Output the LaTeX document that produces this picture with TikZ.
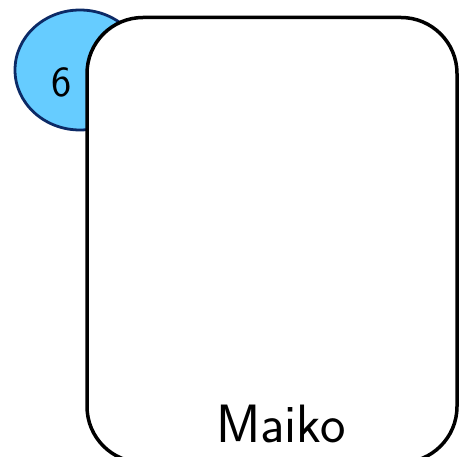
\documentclass[tikz,border=0pt]{standalone}
\usetikzlibrary{shapes.geometric}
\definecolor{badgefill}{HTML}{66CCFF}
\definecolor{badgeline}{HTML}{0C2A66}
\tikzset{
  badge/.style={ellipse, fill=badgefill, draw=badgeline, line width=2.8pt,
    minimum width=130pt, minimum height=120pt, inner sep=0pt},
  card/.style={draw=black, fill=white, line width=3.5pt, rounded corners=56pt,
    minimum width=370pt, minimum height=445pt, inner sep=0pt},
  tagtext/.style={font=\sffamily\fontsize{43}{44}\selectfont},
  titletext/.style={font=\sffamily\fontsize{54}{56}\selectfont}
}
\begin{document}
\begin{tikzpicture}[x=1pt, y=-1pt]
  \useasboundingbox (0,0) rectangle (468,457);

  % badge behind the card
  \node[badge] (badge) at (80,70) {};
  \node[tagtext, anchor=base] (num) at (62,97) {6};

  % card
  \node[card] (card) at (272,240) {};
  \node[titletext, anchor=base] (title) at (281,442) {Maiko};

\end{tikzpicture}
\end{document}
